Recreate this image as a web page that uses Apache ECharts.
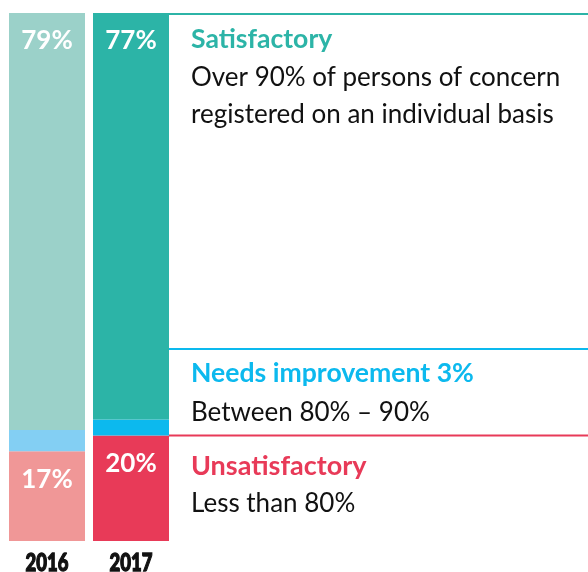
<!DOCTYPE html>
<html><head><meta charset="utf-8">
<script src="https://cdn.jsdelivr.net/npm/echarts@6/dist/echarts.min.js"></script>
<style>html,body{margin:0;padding:0;background:#fff}#c{width:588px;height:572px}</style>
</head><body><div id="c"></div>
<script>
// ---- data ----
const years = ['2016', '2017'];
const satisfactory = [79, 77];
const needsImprovement = [4, 3];
const unsatisfactory = [17, 20];

// ---- styles ----
const satColors = ['#9bd1c9', '#2cb4a7'];
const needColors = ['#83cff3', '#0cb9ee'];
const unsatColors = ['#f09797', '#e83a58'];
const FONT = 'Lato, "Noto Sans", sans-serif';

const chart = echarts.init(document.getElementById('c'), null, { renderer: 'canvas' });

function items(vals, cols) {
  return vals.map((v, i) => ({ value: v, itemStyle: { color: cols[i] } }));
}
const pctLabel = {
  show: true, position: 'insideTop', distance: 15,
  formatter: '{c}%', color: '#fff', fontFamily: FONT, fontWeight: 'bold', fontSize: 26
};

chart.setOption({
  animation: false,
  grid: { left: 5, width: 168, top: 13, height: 528, outerBoundsMode: 'none' },
  xAxis: {
    type: 'category', data: years,
    axisLine: { show: false }, axisTick: { show: false },
    axisLabel: { show: false }
  },
  yAxis: { type: 'value', min: 0, max: 100, show: false },
  series: [
    { type: 'bar', stack: 's', barWidth: 76, data: items(unsatisfactory, unsatColors), label: pctLabel },
    { type: 'bar', stack: 's', barWidth: 76, data: items(needsImprovement, needColors) },
    { type: 'bar', stack: 's', barWidth: 76, data: items(satisfactory, satColors), label: pctLabel }
  ]
});

// annotation panel to the right of the 2017 bar
const xRight = chart.convertToPixel({ xAxisIndex: 0 }, '2017') + 38;
const yTop = chart.convertToPixel({ yAxisIndex: 0 }, 100);
const yRed = chart.convertToPixel({ yAxisIndex: 0 }, unsatisfactory[1]);
const tx = 191;
function line(y, color) {
  return { type: 'line', shape: { x1: xRight, y1: y, x2: 588, y2: y },
    style: { stroke: color, lineWidth: 2 }, silent: true };
}
function text(str, y, color, bold, size) {
  return { type: 'text', x: tx, y: y,
    style: { text: str, fill: color, font: (bold ? 'bold ' : '') + size + 'px ' + FONT,
      verticalAlign: 'middle', align: 'left' }, silent: true };
}
// condensed year labels under the bars
const yearLabels = years.map(y => ({
  type: 'text', x: chart.convertToPixel({ xAxisIndex: 0 }, y), y: 563, scaleX: 0.74,
  style: { text: y, fill: '#111', stroke: '#111', lineWidth: 1.3,
    font: '900 25px ' + FONT, align: 'center', verticalAlign: 'middle' },
  silent: true
}));
chart.setOption({
  graphic: [
    line(yTop + 1, satColors[1]),
    line(349, needColors[1]),
    line(yRed, unsatColors[1]),
    text('Satisfactory', 39, satColors[1], true, 26.6),
    text('Over 90% of persons of concern', 77.5, '#111', false, 26),
    text('registered on an individual basis', 114.5, '#111', false, 26),
    text('Needs improvement 3%', 373, needColors[1], true, 26.6),
    text('Between 80% \u2013 90%', 412.5, '#111', false, 26),
    text('Unsatisfactory', 466, unsatColors[1], true, 27),
    text('Less than 80%', 503.5, '#111', false, 26)
  ].concat(yearLabels)
});
</script></body></html>
